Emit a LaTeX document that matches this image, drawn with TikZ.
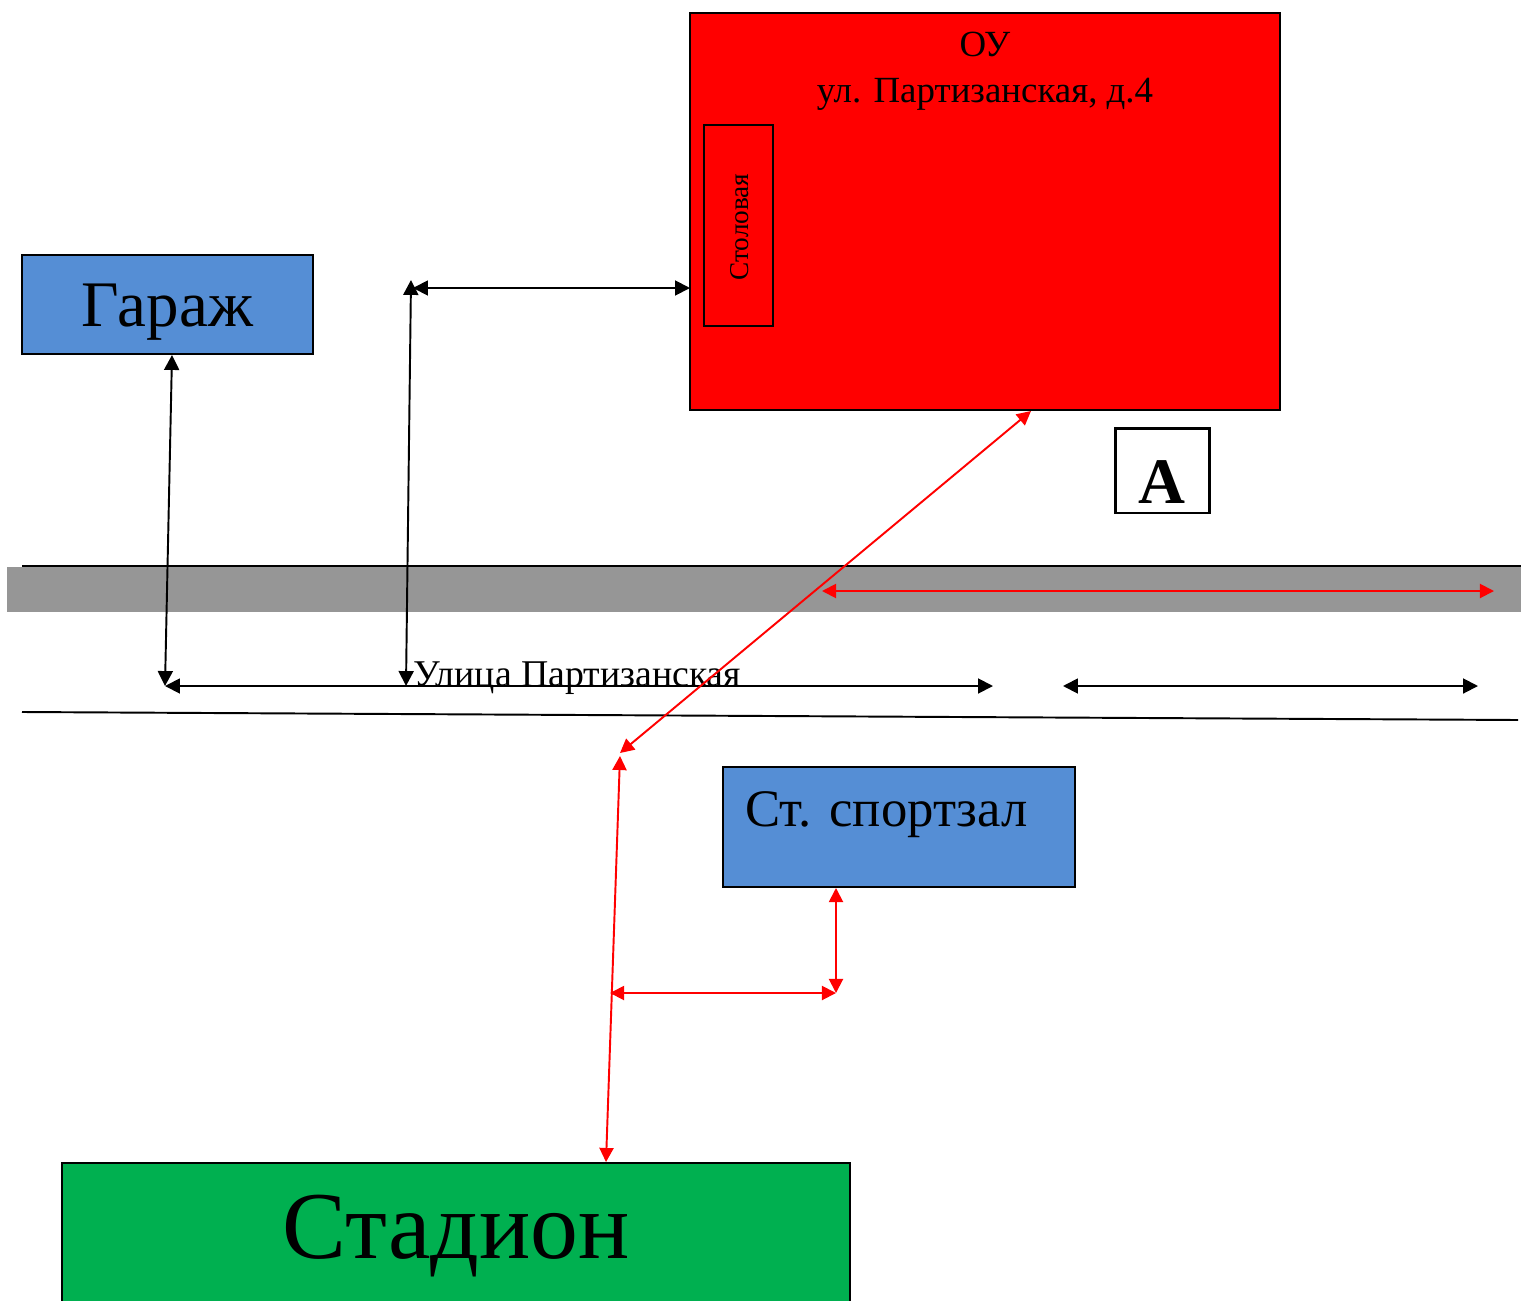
\documentclass[tikz,border=0pt]{standalone}
\usepackage{fontspec}
\setmainfont{Liberation Serif}
\usetikzlibrary{arrows.meta}
\definecolor{ourred}{HTML}{FF0000}
\definecolor{bluebox}{HTML}{558ED5}
\definecolor{greenbox}{HTML}{00B050}
\definecolor{roadgray}{HTML}{969696}
\tikzset{
  box/.style={draw=black, line width=1.1pt, inner sep=0pt},
  txt/.style={inner sep=0pt, text=black},
  barr/.style={line width=1.1pt, draw=black, {Triangle[length=8.5pt,width=8.5pt]}-{Triangle[length=8.5pt,width=8.5pt]}},
  rarr/.style={line width=1.1pt, draw=ourred, {Triangle[length=8pt,width=8pt]}-{Triangle[length=8pt,width=8pt]}},
}
\begin{document}
\begin{tikzpicture}[x=0.02cm,y=-0.02cm]
\useasboundingbox (0,0) rectangle (1521,1301);
% road
\fill[roadgray] (7,567) rectangle (1521,612);
\draw[line width=1.1pt] (22,566) -- (1521,566);
\draw[line width=1.1pt] (22,712) -- (1518,720);
% buildings
\node[box, fill=ourred, minimum width=11.8cm, minimum height=7.94cm] (ou) at (985,211.5) {};
\node[txt, align=center, font=\fontsize{21pt}{26pt}\selectfont] (outxt) at (985,71) {ОУ\\ул. Партизанская, д.4};
\node[box, fill=ourred, minimum width=1.38cm, minimum height=4.02cm] (stol) at (738.5,225.5) {};
\node[txt, rotate=90, font=\fontsize{15.5pt}{17pt}\selectfont] (stoltxt) at (740,227) {Столовая};
\node[box, fill=bluebox, minimum width=5.82cm, minimum height=1.98cm] (garage) at (167.5,304.5) {};
\node[txt, font=\fontsize{37pt}{40pt}\selectfont] (garagetxt) at (167.5,312) {Гараж};
\node[box, line width=1.7pt, fill=white, minimum width=1.88cm, minimum height=1.70cm] (a) at (1162,470.5) {};
\node[txt, anchor=base, font=\bfseries\fontsize{37pt}{40pt}\selectfont] (atxt) at (1162,503) {A};
\node[box, fill=bluebox, minimum width=7.04cm, minimum height=2.4cm] (gym) at (899,827) {};
\node[txt, anchor=west, font=\fontsize{30pt}{33pt}\selectfont] (gymtxt) at (745,815) {Ст. спортзал};
\node[box, fill=greenbox, minimum width=15.76cm, minimum height=2.9cm] (stad) at (456,1235.5) {};
\node[txt, font=\fontsize{54.5pt}{58pt}\selectfont] (stadtxt) at (456,1236) {Стадион};
\node[txt, anchor=base west, font=\fontsize{21.5pt}{24pt}\selectfont] (street) at (413,686) {Улица Партизанская};
% coordinates
\coordinate (g1) at (172,355);
\coordinate (g2) at (165,686);
\coordinate (v1) at (411,280);
\coordinate (v2) at (406,686);
\coordinate (h1) at (413,288);
\coordinate (h2) at (690,288);
\coordinate (b1) at (165,686);
\coordinate (b2) at (993,686);
\coordinate (c1) at (1063,686);
\coordinate (c2) at (1478,686);
\coordinate (d1) at (1031,411);
\coordinate (d2) at (620,753);
\coordinate (r1) at (822,591);
\coordinate (r2) at (1494,591);
\coordinate (s1) at (620,756);
\coordinate (s2) at (606,1162);
\coordinate (k1) at (610,993);
\coordinate (k2) at (836,993);
\coordinate (m1) at (836,888);
% black arrows
\draw[barr] (g1) -- (g2);
\draw[barr] (v1) -- (v2);
\draw[barr] (h1) -- (h2);
\draw[barr] (b1) -- (b2);
\draw[barr] (c1) -- (c2);
% red arrows
\draw[rarr] (d1) -- (d2);
\draw[rarr] (r1) -- (r2);
\draw[rarr] (s1) -- (s2);
\draw[rarr] (k1) -- (k2);
\draw[rarr] (m1) -- (k2);
\end{tikzpicture}
\end{document}
